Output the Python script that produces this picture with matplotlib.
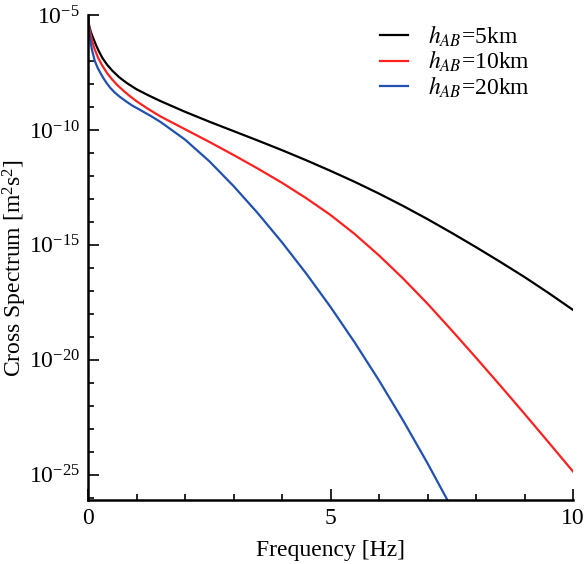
import matplotlib
matplotlib.use("Agg")
import matplotlib.pyplot as plt
import numpy as np
from matplotlib.ticker import FixedLocator, FuncFormatter

plt.rcParams['font.family'] = ['Liberation Serif', 'DejaVu Serif']
plt.rcParams['mathtext.fontset'] = 'stix'

# frequency [Hz] and log10 of cross spectrum [m^2 s^2]
f_black = [0, 0.01, 0.03, 0.06, 0.11, 0.16, 0.22, 0.3, 0.4, 0.5, 0.65, 0.8, 1.0, 1.25, 1.5, 2, 2.5,
           3, 3.5, 4, 4.5, 5, 5.5, 6, 6.5, 7, 7.5, 8, 8.5, 9, 9.5, 10]
lg_black = [-5, -5.3, -5.52, -5.75, -6.02, -6.28, -6.56, -6.88, -7.18, -7.42, -7.72, -7.96, -8.23,
            -8.5, -8.75, -9.21, -9.64, -10.05, -10.46, -10.88, -11.32, -11.78, -12.26, -12.77,
            -13.31, -13.88, -14.48, -15.10, -15.74, -16.40, -17.10, -17.83]
f_red = [0, 0.01, 0.03, 0.07, 0.13, 0.21, 0.3, 0.4, 0.5, 0.6, 0.75, 0.87, 1.0, 1.25, 1.5, 2, 2.5,
         3, 3.5, 4, 4.5, 5, 5.5, 6, 6.5, 7, 7.5, 8, 8.5, 9, 9.5, 10]
lg_red = [-5, -5.35, -5.6, -6.0, -6.45, -6.87, -7.22, -7.55, -7.81, -8.04, -8.33, -8.54, -8.75,
          -9.1, -9.42, -9.97, -10.52, -11.09, -11.68, -12.30, -12.97, -13.70, -14.53, -15.46,
          -16.47, -17.56, -18.72, -19.91, -21.12, -22.35, -23.60, -24.86]
f_blue = [0, 0.015, 0.04, 0.08, 0.14, 0.2, 0.25, 0.31, 0.38, 0.46, 0.55, 0.65, 0.8, 0.92, 1.05,
          1.3, 1.5, 2, 2.5, 3, 3.5, 4, 4.5, 5, 5.5, 6, 6.5, 7, 7.5]
lg_blue = [-5, -5.5, -6.0, -6.5, -7.0, -7.3, -7.5, -7.72, -7.95, -8.17, -8.37, -8.55, -8.78,
           -8.95, -9.1, -9.4, -9.66, -10.42, -11.36, -12.44, -13.62, -14.89, -16.25, -17.70,
           -19.25, -20.90, -22.65, -24.50, -26.45]

labels = [r'$h_{AB}$=5km', r'$h_{AB}$=10km', r'$h_{AB}$=20km']
colors = ['#000000', '#ff2020', '#2050b0']

fig = plt.figure(figsize=(5.84, 5.64), dpi=100)
ax = fig.add_axes([88/584, 1-500/564, (573-88)/584, (500-15)/564])

for fx, lg, lab, c in zip([f_black, f_red, f_blue], [lg_black, lg_red, lg_blue], labels, colors):
    ax.plot(fx, 10.0**np.array(lg), color=c, lw=1.6, label=lab)

ax.set_yscale('log')
ax.set_xlim(0, 10)
ax.set_ylim(10**-26.1, 1e-5)

ax.xaxis.set_major_locator(FixedLocator([0, 5, 10]))
ax.xaxis.set_minor_locator(FixedLocator([1, 2, 3, 4, 6, 7, 8, 9]))
ax.yaxis.set_major_locator(FixedLocator([1e-25, 1e-20, 1e-15, 1e-10, 1e-5]))
ax.yaxis.set_minor_locator(FixedLocator([10.0**k for k in range(-26, -4) if k % 5 != 0]))
ax.yaxis.set_major_formatter(FuncFormatter(
    lambda v, p: r'$\mathregular{10^{%d}}$' % round(np.log10(v))))
ax.yaxis.set_minor_formatter(FuncFormatter(lambda v, p: ''))

ax.tick_params(which='major', direction='in', length=8, width=1.2, labelsize=17, pad=6)
ax.tick_params(which='minor', direction='in', length=4, width=1.2)
ax.spines['top'].set_visible(False)
ax.spines['right'].set_visible(False)
for s in ['left', 'bottom']:
    ax.spines[s].set_linewidth(1.8)

ax.set_xlabel('Frequency [Hz]', fontsize=17, labelpad=8)
ax.set_ylabel(r'Cross Spectrum [m$\mathregular{^2}$s$\mathregular{^2}$]', fontsize=17)
ax.yaxis.set_label_coords(-0.122, 0.478)

leg = ax.legend(loc='upper left', bbox_to_anchor=(0.602, 0.982), frameon=False, fontsize=17,
                handlelength=1.2, handletextpad=0.85, labelspacing=0.0, borderaxespad=0.0,
                borderpad=0.0)

fig.savefig('out.png', dpi=100)
